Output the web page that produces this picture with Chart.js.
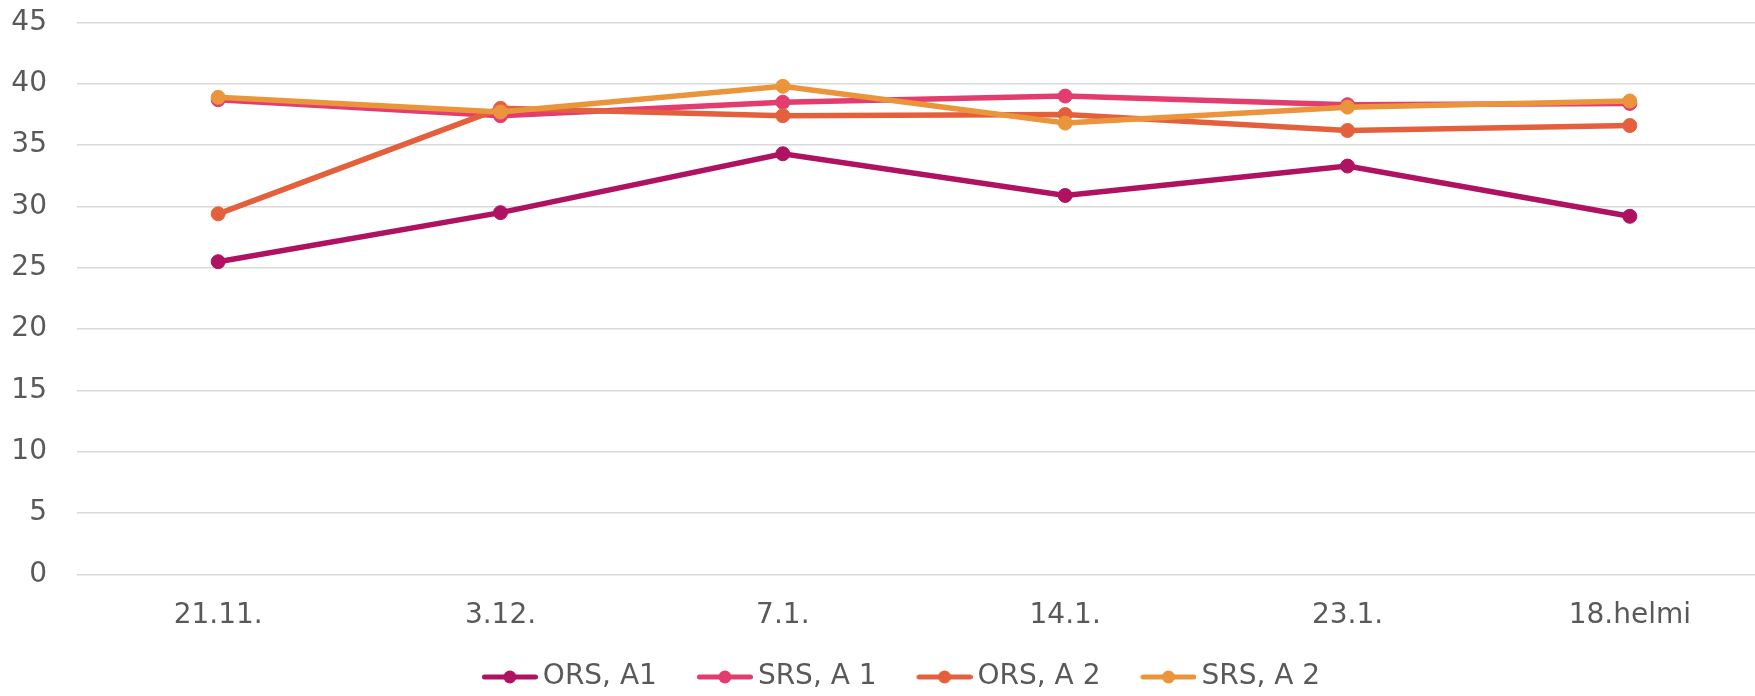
<!DOCTYPE html>
<html>
<head>
<meta charset="utf-8">
<script src="https://cdn.jsdelivr.net/npm/chart.js@4/dist/chart.umd.min.js"></script>
<style>
  html, body { margin: 0; padding: 0; background: #ffffff; overflow: hidden; width: 1755px; height: 696px; }
  #c { display: block; }
</style>
</head>
<body>
<canvas id="c" width="1793" height="701"></canvas>
<script>
const categories = ["21.11.", "3.12.", "7.1.", "14.1.", "23.1.", "18.helmi"];
const seriesNames = ["ORS, A1", "SRS, A 1", "ORS, A 2", "SRS, A 2"];
const orsA1 = [25.5, 29.5, 34.3, 30.9, 33.3, 29.2];
const srsA1 = [38.7, 37.4, 38.5, 39.0, 38.3, 38.4];
const orsA2 = [29.4, 38.0, 37.4, 37.5, 36.2, 36.6];
const srsA2 = [38.9, 37.7, 39.8, 36.8, 38.1, 38.6];
const colors = ["#B01262", "#E33D6F", "#E4603D", "#EA953B"];
const yTicks = [0, 5, 10, 15, 20, 25, 30, 35, 40, 45];

const seriesValues = [orsA1, srsA1, orsA2, srsA2];
const textColor = "#595959";
const fontFamily = "'DejaVu Sans', sans-serif";

function legendImage(color) {
  const c = document.createElement("canvas");
  c.width = 74; c.height = 16;
  const g = c.getContext("2d");
  g.strokeStyle = color; g.lineWidth = 5; g.lineCap = "round";
  g.beginPath(); g.moveTo(20.5, 8); g.lineTo(71.5, 8); g.stroke();
  g.fillStyle = color;
  g.beginPath(); g.arc(46, 8, 6.5, 0, Math.PI * 2); g.fill();
  return c;
}
const legendImgs = colors.map(legendImage);

const datasets = seriesNames.map((name, i) => ({
  label: name,
  data: seriesValues[i],
  borderColor: colors[i],
  backgroundColor: colors[i],
  borderWidth: 5.5,
  pointRadius: 7,
  pointBorderWidth: 1,
  pointBackgroundColor: colors[i],
  pointBorderColor: colors[i],
  tension: 0,
  order: seriesNames.length - i
}));

new Chart(document.getElementById("c"), {
  type: "line",
  data: { labels: categories, datasets: datasets },
  options: {
    responsive: false,
    animation: false,
    devicePixelRatio: 1,
    layout: { padding: { top: 22.5, left: 0, right: 0, bottom: 0 } },
    plugins: {
      tooltip: { enabled: false },
      legend: {
        position: "bottom",
        labels: {
          usePointStyle: true,
          pointStyleWidth: 56,
          padding: 31,
          color: textColor,
          font: { family: fontFamily, size: 28 },
          generateLabels: (chart) => {
            const items = Chart.defaults.plugins.legend.labels.generateLabels(chart);
            items.sort((a, b) => a.datasetIndex - b.datasetIndex);
            items.forEach(it => { it.pointStyle = legendImgs[it.datasetIndex]; });
            return items;
          }
        }
      }
    },
    scales: {
      x: {
        type: "category",
        offset: true,
        grid: { display: false, drawTicks: false, tickLength: 0 },
        border: { display: false },
        ticks: { color: textColor, font: { family: fontFamily, size: 28 }, padding: 24, maxRotation: 0, autoSkip: false },
        afterFit: (s) => { s.height = 57.5; s.paddingLeft = 0; s.paddingRight = 0; }
      },
      y: {
        min: 0,
        max: 45,
        afterBuildTicks: (s) => { s.ticks = yTicks.map(v => ({ value: v })); },
        grid: { color: "#d9d9d9", lineWidth: 1.5, drawTicks: false, tickLength: 0 },
        border: { display: false },
        ticks: { color: textColor, font: { family: fontFamily, size: 28 }, padding: 30 },
        afterFit: (s) => { s.width = 77; s.paddingTop = 0; s.paddingBottom = 0; }
      },
      yRight: {
        type: "linear",
        position: "right",
        min: 0, max: 1,
        grid: { display: false, drawTicks: false },
        border: { display: false },
        ticks: { display: false },
        afterFit: (s) => { s.width = 22; s.paddingTop = 0; s.paddingBottom = 0; }
      }
    }
  }
});
</script>
</body>
</html>
